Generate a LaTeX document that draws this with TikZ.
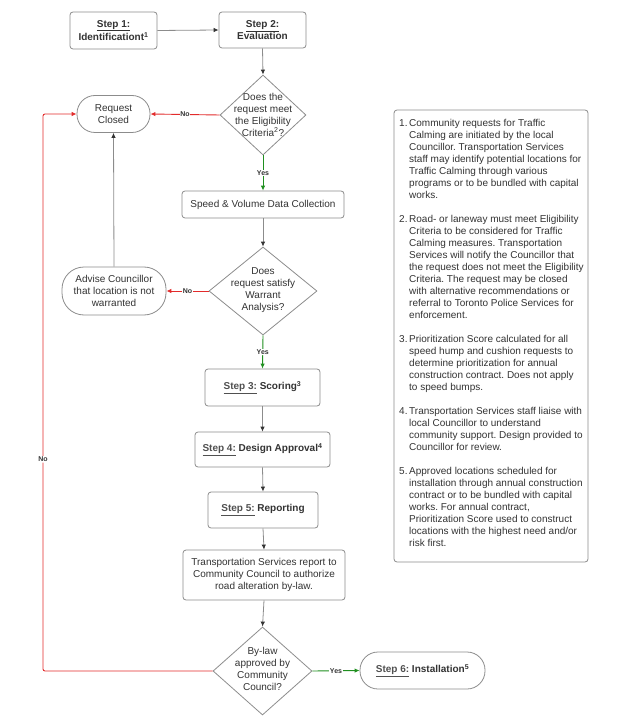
\documentclass[tikz,border=0pt]{standalone}
\usepackage{fontspec}
\setmainfont{Liberation Sans}
\usetikzlibrary{arrows.meta,shapes.geometric}
\definecolor{txt}{HTML}{333333}
\definecolor{stp}{HTML}{505050}
\definecolor{bord}{HTML}{8C8C8C}
\definecolor{lin}{HTML}{8C8C8C}
\definecolor{ahead}{HTML}{333333}
\definecolor{redc}{HTML}{E22B2B}
\definecolor{grnc}{HTML}{1F8F1F}
\newcommand\nlx{\\\hspace*{10pt}}
\newcommand\stepl[1]{\textcolor{stp}{\textbf{\underline{#1}}}}
\frenchspacing
\begin{document}
\begin{tikzpicture}[x=1pt,y=-1pt,
  box/.style={draw=bord, line width=0.8pt, rounded corners=3pt, fill=white, text=txt,
    font=\fontsize{10}{12}\selectfont, align=center, inner sep=0pt},
  pill/.style={box, rounded corners=#1},
  dia/.style={diamond, draw=bord, line width=0.8pt, inner sep=0pt, fill=white},
  dtext/.style={text=txt, font=\fontsize{10}{12}\selectfont, align=center, inner sep=0pt},
  lbl/.style={font=\fontsize{7}{8}\selectfont\bfseries, text=txt, fill=white, inner sep=0.8pt},
  conn/.style={draw=lin, line width=0.8pt, -{Latex[length=5pt,width=4.5pt,color=ahead]}},
  rconn/.style={draw=redc, line width=0.9pt, -{Latex[length=5pt,width=4.5pt]}},
  gconn/.style={draw=grnc, line width=0.9pt, -{Latex[length=5pt,width=4.5pt]}}
]
\useasboundingbox (0,0) rectangle (628,727);

% nodes
\node[box, minimum width=87pt, minimum height=37pt] (s1) at (113.5,30.5)
  {\textbf{\underline{Step 1:}}\\\textbf{Identificationt\textsuperscript{1}}};
\node[box, minimum width=87pt, minimum height=36pt] (s2) at (262.5,30)
  {\textbf{\underline{Step 2:}}\\\textbf{Evaluation}};
\node[dia, minimum width=86pt, minimum height=80pt] (d1) at (263,115) {};
\node[dtext] (d1t) at (263,114.5) {Does the\\request meet\\the Eligibility\\Criteria\textsuperscript{2}?};
\node[pill=18pt, minimum width=73pt, minimum height=37pt] (rc) at (113.5,114) {Request\\Closed};
\node[box, minimum width=162pt, minimum height=27pt] (sv) at (263,204.5) {Speed \& Volume Data Collection};
\node[dia, minimum width=108pt, minimum height=88pt] (d2) at (263,291) {};
\node[dtext] (d2t) at (263,290) {Does\\request satisfy\\Warrant\\Analysis?};
\node[pill=22pt, minimum width=104pt, minimum height=48pt] (adv) at (114,291)
  {Advise Councillor\\that location is not\\warranted};
\node[box, minimum width=115pt, minimum height=37pt] (s3) at (262.5,387.5)
  {\stepl{Step 3:} \textbf{Scoring\textsuperscript{3}}};
\node[box, minimum width=135pt, minimum height=35pt] (s4) at (262.5,449.5)
  {\stepl{Step 4:} \textbf{Design Approval\textsuperscript{4}}};
\node[box, minimum width=110pt, minimum height=36pt] (s5) at (263,510)
  {\stepl{Step 5:} \textbf{Reporting}};
\node[box, minimum width=162pt, minimum height=50pt] (tr) at (264,575)
  {Transportation Services report to\\Community Council to authorize\\road alteration by-law.};
\node[dia, minimum width=99pt, minimum height=88pt] (d3) at (262.5,671) {};
\node[dtext] (d3t) at (262.5,669) {By-law\\approved by\\Community\\Council?};
\node[pill=18pt, minimum width=125pt, minimum height=37pt] (s6) at (422.5,670.5)
  {\stepl{Step 6:} \textbf{Installation\textsuperscript{5}}};

% notes box
\node[box, minimum width=194pt, minimum height=452pt] (nb) at (491,336) {};
\node[text=txt, font=\fontsize{10}{12}\selectfont, align=left, inner sep=0pt, anchor=north west] (nt) at (399,119)
{\makebox[10pt][l]{1.}Community requests for Traffic\nlx
Calming are initiated by the local\nlx
Councillor. Transportation Services\nlx
staff may identify potential locations for\nlx
Traffic Calming through various\nlx
programs or to be bundled with capital\nlx
works.\\[12pt]
\makebox[10pt][l]{2.}Road- or laneway must meet Eligibility\nlx
Criteria to be considered for Traffic\nlx
Calming measures. Transportation\nlx
Services will notify the Councillor that\nlx
the request does not meet the Eligibility\nlx
Criteria. The request may be closed\nlx
with alternative recommendations or\nlx
referral to Toronto Police Services for\nlx
enforcement.\\[12pt]
\makebox[10pt][l]{3.}Prioritization Score calculated for all\nlx
speed hump and cushion requests to\nlx
determine prioritization for annual\nlx
construction contract. Does not apply\nlx
to speed bumps.\\[12pt]
\makebox[10pt][l]{4.}Transportation Services staff liaise with\nlx
local Councillor to understand\nlx
community support. Design provided to\nlx
Councillor for review.\\[12pt]
\makebox[10pt][l]{5.}Approved locations scheduled for\nlx
installation through annual construction\nlx
contract or to be bundled with capital\nlx
works. For annual contract,\nlx
Prioritization Score used to construct\nlx
locations with the highest need and/or\nlx
risk first.};

\coordinate (cl) at (43,671);
\coordinate (tl) at (43,114);

% connectors
\draw[conn] (s1.east) -- (s2.west);
\draw[conn] (s2.south) -- (d1.north);
\draw[rconn] (d1.west) -- node[lbl]{No} (rc.east);
\draw[gconn] (d1.south) -- node[lbl]{Yes} (sv.north);
\draw[conn] (sv.south) -- (d2.north);
\draw[rconn] (d2.west) -- node[lbl]{No} (adv.east);
\draw[conn] (adv.north) -- (rc.south);
\draw[gconn] (d2.south) -- node[lbl]{Yes} (s3.north);
\draw[conn] (s3.south) -- (s4.north);
\draw[conn] (s4.south) -- (s5.north);
\draw[conn] (s5.south) -- (tr.north);
\draw[conn] (tr.south) -- (d3.north);
\draw[gconn] (d3.east) -- node[lbl]{Yes} (s6.west);
\draw[rconn, rounded corners=2pt] (d3.west) -- (cl) -- node[lbl, pos=0.38]{No} (tl) -- (rc.west);
\end{tikzpicture}
\end{document}
